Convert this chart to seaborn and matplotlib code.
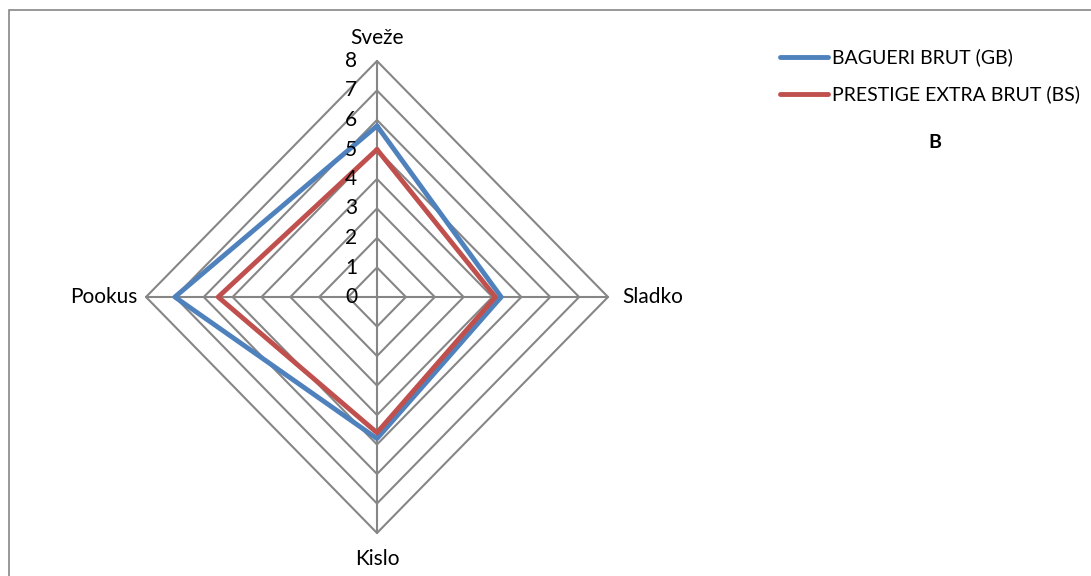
import numpy as np
import pandas as pd
import matplotlib
matplotlib.use("Agg")
import matplotlib.pyplot as plt
import seaborn as sns

# categories clockwise from the top
categories = ["Sveže", "Sladko", "Kislo", "Pookus"]
series_names = ["BAGUERI BRUT (GB)", "PRESTIGE EXTRA BRUT (BS)"]
gb_values = [5.8, 4.3, 4.8, 7.0]
bs_values = [5.0, 4.1, 4.6, 5.5]
rings = [0, 1, 2, 3, 4, 5, 6, 7, 8]
group_label = "B"

sns.set_theme(style="white")
plt.rcParams["font.family"] = ["Lato", "DejaVu Sans"]

angles = np.linspace(0, 2 * np.pi, len(categories), endpoint=False)


def to_xy(values):
    # close the polygon and turn radial values into x/y
    v = list(values) + [values[0]]
    a = list(angles) + [angles[0]]
    return np.array(v) * np.sin(a), np.array(v) * np.cos(a)


rows = []
for name, vals in zip(series_names, [gb_values, bs_values]):
    x, y = to_xy(vals)
    for i in range(len(x)):
        rows.append({"series": name, "x": x[i], "y": y[i], "order": i})
df = pd.DataFrame(rows)

fig = plt.figure(figsize=(10.91, 5.76), dpi=100)
ax = fig.add_axes([146 / 1091, 43 / 576, 462 / 1091, 472 / 576])
ax.set_xlim(-8, 8)
ax.set_ylim(-8, 8)
ax.axis("off")

grid_col = "#868686"
# diamond rings
for r in rings[1:]:
    x, y = to_xy([r] * len(categories))
    ax.plot(x, y, color=grid_col, lw=1.5, clip_on=False, zorder=1)
# spokes
for a in angles:
    ax.plot([0, 8 * np.sin(a)], [0, 8 * np.cos(a)], color=grid_col, lw=1.5,
            clip_on=False, zorder=1)

palette = {series_names[0]: "#4F81BD", series_names[1]: "#C0504D"}
sns.lineplot(data=df, x="x", y="y", hue="series", units="series", estimator=None,
             sort=False, palette=palette, lw=3.5, legend=False, ax=ax, zorder=3)
for line in ax.lines:
    line.set_clip_on(False)

fs = 15
# ring value labels
for r in rings:
    ax.annotate(str(r), (0, r), xytext=(-20, 0), textcoords="offset pixels",
                ha="right", va="center", fontsize=fs, color="black")

# category labels
offsets = [((0, 23), "center", "center"), ((14, 0), "left", "center"),
           ((0, -26), "center", "center"), ((-8, 0), "right", "center")]
for cat, a, (off, ha, va) in zip(categories, angles, offsets):
    ax.annotate(cat, (8 * np.sin(a), 8 * np.cos(a)), xytext=off,
                textcoords="offset pixels", ha=ha, va=va, fontsize=fs,
                color="black")

# legend
leg_y = [57, 94]
for name, ly in zip(series_names, leg_y):
    fy = 1 - ly / 576
    fig.add_artist(plt.Line2D([780 / 1091, 828 / 1091], [fy, fy],
                              color=palette[name], lw=3.5,
                              solid_capstyle="round"))
    fig.text(832 / 1091, fy, name, ha="left", va="center", fontsize=14,
             color="black")
fig.text(935 / 1091, 1 - 143 / 576, group_label, ha="center", va="center",
         fontsize=14, fontweight="bold", color="black")

# chart area border
fig.add_artist(plt.Rectangle((9 / 1091, -0.05), 1.1, 1 - 10 / 576 + 0.05,
                             fill=False, edgecolor=grid_col, lw=1.2))

fig.savefig("out.png", dpi=100)
